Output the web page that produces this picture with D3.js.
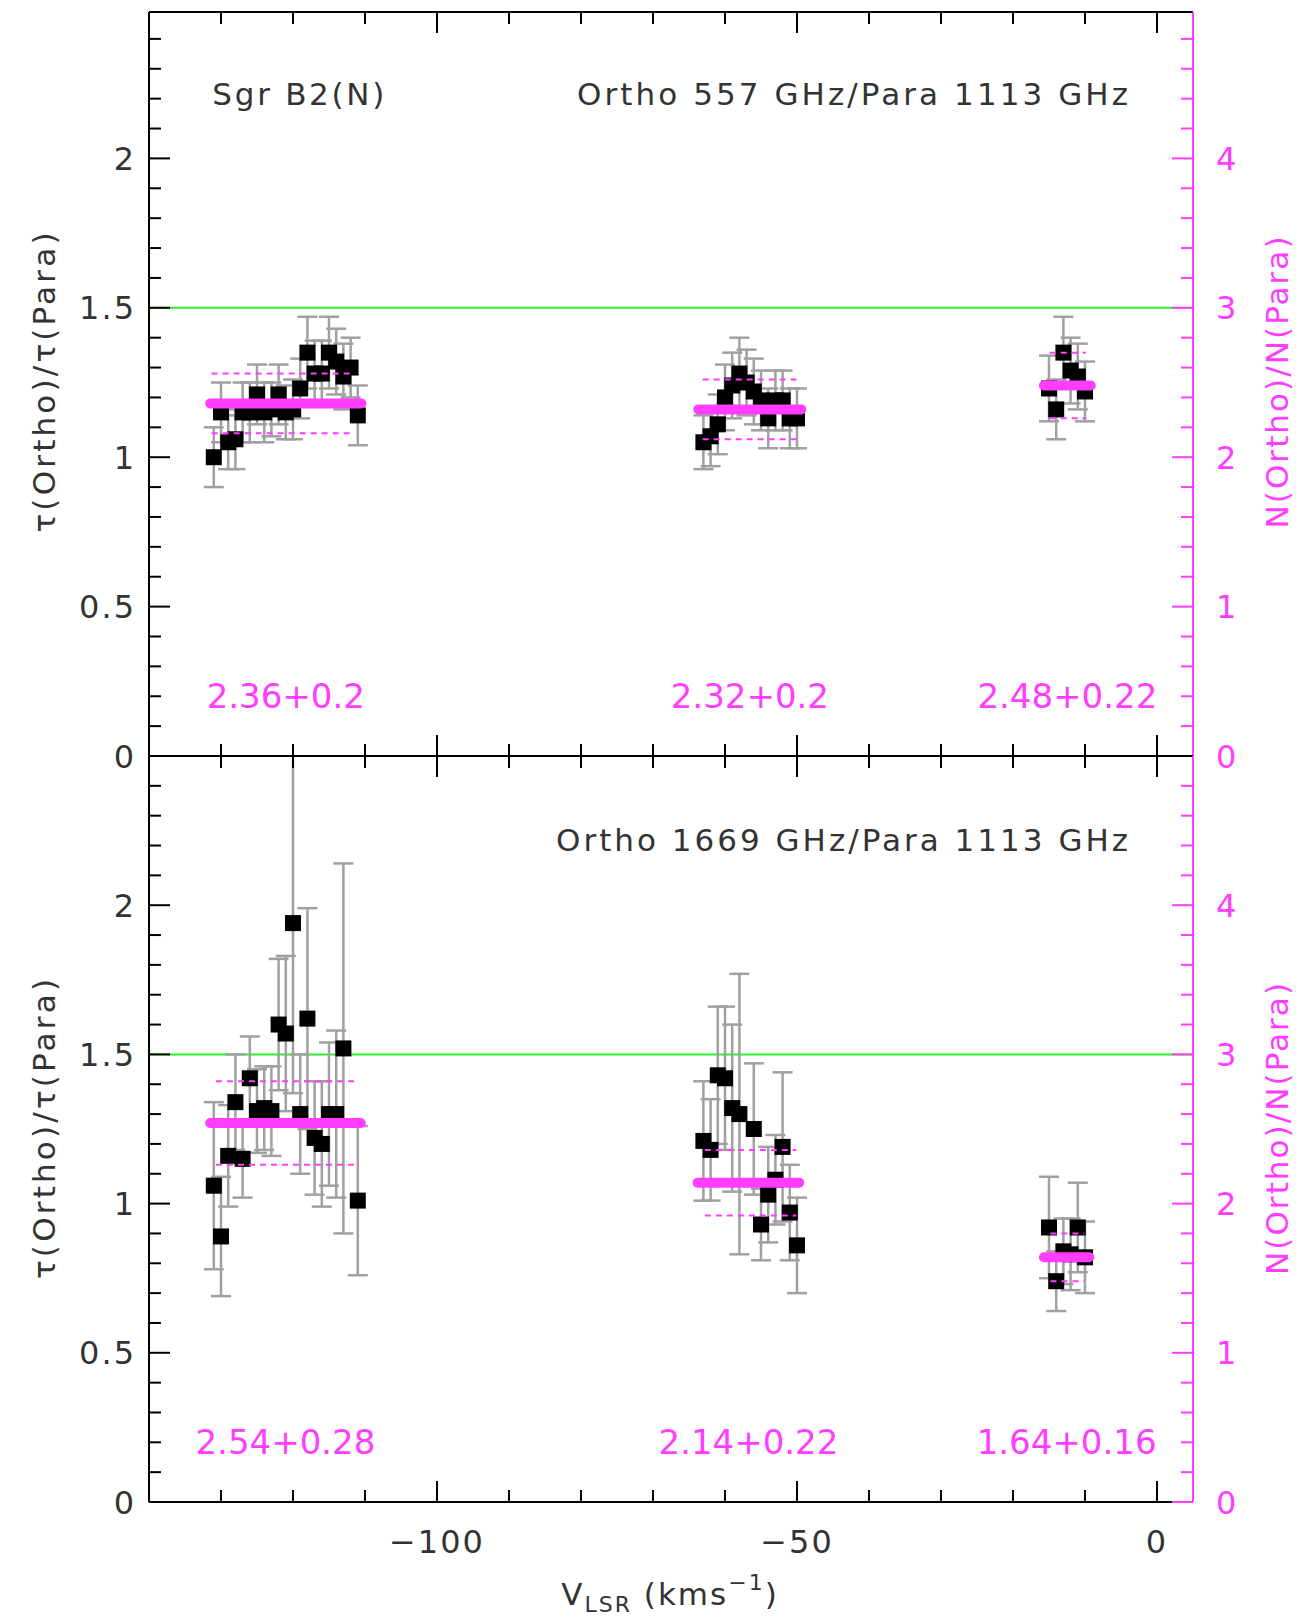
<!DOCTYPE html>
<html><head><meta charset="utf-8">
<script src="https://cdn.jsdelivr.net/npm/d3@7"></script>
<style>body{margin:0;background:#fff;} svg{display:block;}</style>
</head><body>
<script>
// ---------------- DATA ----------------
// Top panel: Ortho 557 GHz / Para 1113 GHz
const top1V = [-131,-130,-129,-128,-127,-126,-125,-124,-123,-122,-121,-120,-119,-118,-117,-116,-115,-114,-113,-112,-111];
const top1R = [1.00,1.15,1.05,1.06,1.15,1.15,1.21,1.15,1.16,1.21,1.15,1.16,1.23,1.35,1.28,1.28,1.35,1.32,1.27,1.30,1.14];
const top1E = [0.10,0.10,0.09,0.10,0.10,0.10,0.10,0.10,0.09,0.10,0.09,0.10,0.10,0.12,0.11,0.11,0.12,0.11,0.11,0.10,0.10];
const top2V = [-63,-62,-61,-60,-59,-58,-57,-56,-55,-54,-53,-52,-51,-50];
const top2R = [1.05,1.07,1.11,1.20,1.24,1.28,1.25,1.22,1.19,1.13,1.19,1.19,1.13,1.13];
const top2E = [0.09,0.10,0.10,0.11,0.11,0.12,0.11,0.11,0.10,0.10,0.10,0.10,0.10,0.10];
const top3V = [-15,-14,-13,-12,-11,-10];
const top3R = [1.23,1.16,1.35,1.29,1.27,1.22];
const top3E = [0.11,0.10,0.12,0.11,0.11,0.10];
// Bottom panel: Ortho 1669 GHz / Para 1113 GHz
const bot1V = [-131,-130,-129,-128,-127,-126,-125,-124,-123,-122,-121,-120,-119,-118,-117,-116,-115,-114,-113,-111];
const bot1R = [1.06,0.89,1.16,1.34,1.15,1.42,1.31,1.32,1.31,1.60,1.57,1.94,1.30,1.62,1.22,1.20,1.30,1.30,1.52,1.01];
const bot1E = [0.28,0.20,0.17,0.16,0.13,0.14,0.14,0.14,0.15,0.22,0.26,0.57,0.20,0.37,0.19,0.21,0.24,0.28,0.62,0.25];
const bot2V = [-63,-62,-61,-60,-59,-58,-56,-55,-54,-53,-52,-51,-50];
const bot2R = [1.21,1.18,1.43,1.42,1.32,1.30,1.25,0.93,1.03,1.08,1.19,0.97,0.86];
const bot2E = [0.20,0.17,0.23,0.24,0.28,0.47,0.22,0.12,0.16,0.15,0.25,0.16,0.16];
const bot3V = [-15,-14,-13,-12,-11,-10];
const bot3R = [0.92,0.74,0.84,0.83,0.92,0.82];
const bot3E = [0.17,0.10,0.11,0.12,0.15,0.12];
// N(Ortho)/N(Para) averages per velocity group
const topMeans = [2.36, 2.32, 2.48];
const topMeanErr = [0.2, 0.2, 0.22];
const botMeans = [2.54, 2.14, 1.64];
const botMeanErr = [0.28, 0.22, 0.16];
// velocity extent of the average lines
const topMeanFrom = [-131.5, -63.7, -15.7], topMeanTo = [-110.5, -49.4, -9.2];
const topDashFrom = [-131.3, -63.1, -14.9], topDashTo = [-111.6, -50.1, -9.9];
const botMeanFrom = [-131.5, -63.8, -15.7], botMeanTo = [-110.6, -49.7, -9.4];
const botDashFrom = [-130.7, -62.8, -14.8], botDashTo = [-111.1, -50.1, -10.1];
// titles / tick labels
const topTitle = "Ortho 557 GHz/Para 1113 GHz";
const botTitle = "Ortho 1669 GHz/Para 1113 GHz";
const sourceName = "Sgr B2(N)";
const xMajorTicks = [-100, -50, 0];
const xTickLabels = ["\u2212100", "\u221250", "0"];
const yMajorTicks = [0, 0.5, 1, 1.5, 2];
const yTickLabels = ["0", "0.5", "1", "1.5", "2"];
const nMajorTicks = [0, 1, 2, 3, 4];
const nTickLabels = ["0", "1", "2", "3", "4"];
const orthoParaLTE = 1.5; // tau ratio corresponding to N ratio 3

// ---------------- DRAW ----------------
const W = 1296, H = 1623;
const FONT = "'DejaVu Sans', 'Liberation Sans', sans-serif";
const MAG = "#ff3cff", GRN = "#2ef02e", GRY = "#a0a0a0", TXT = "#333";
const svg = d3.select("body").append("svg").attr("width", W).attr("height", H)
  .style("font-family", FONT);
const xL = 149, xR = 1193;
const x = d3.scaleLinear().domain([-140, 5]).range([xL, xR]);
const xMinor = d3.range(-130, 1, 10).filter(v => !xMajorTicks.includes(v));
const yMinor = d3.range(1, 25).map(i => i / 10).filter(v => !yMajorTicks.includes(v));

const panels = [
  {top: 12, bot: 756, ymax: 2.49, series: [[top1V, top1R, top1E], [top2V, top2R, top2E], [top3V, top3R, top3E]],
   means: topMeans, mErr: topMeanErr, mFrom: topMeanFrom, mTo: topMeanTo, dFrom: topDashFrom, dTo: topDashTo,
   title: topTitle, src: sourceName, xlabels: false},
  {top: 756, bot: 1502, ymax: 2.5, series: [[bot1V, bot1R, bot1E], [bot2V, bot2R, bot2E], [bot3V, bot3R, bot3E]],
   means: botMeans, mErr: botMeanErr, mFrom: botMeanFrom, mTo: botMeanTo, dFrom: botDashFrom, dTo: botDashTo,
   title: botTitle, src: null, xlabels: true}
];

panels.forEach((p, pi) => {
  const y = d3.scaleLinear().domain([0, p.ymax]).range([p.bot, p.top]);
  const yN = d3.scaleLinear().domain([0, 2 * p.ymax]).range([p.bot, p.top]);
  const g = svg.append("g");
  const cid = "clip" + pi;
  svg.append("clipPath").attr("id", cid).append("rect")
    .attr("x", xL).attr("y", p.top).attr("width", xR - xL).attr("height", p.bot - p.top);
  const pg = g.append("g").attr("clip-path", `url(#${cid})`);

  // LTE line
  pg.append("line").attr("x1", xL).attr("x2", xR).attr("y1", y(orthoParaLTE)).attr("y2", y(orthoParaLTE))
    .attr("stroke", GRN).attr("stroke-width", 2);

  // error bars
  p.series.forEach(([V, R, E]) => {
    const eb = pg.append("g").attr("stroke", GRY).attr("stroke-width", 2.5);
    V.forEach((v, i) => {
      const cx = x(v), yt = y(R[i] + E[i]), yb = y(R[i] - E[i]);
      eb.append("line").attr("x1", cx).attr("x2", cx).attr("y1", yt).attr("y2", yb);
      eb.append("line").attr("x1", cx - 10).attr("x2", cx + 10).attr("y1", yt).attr("y2", yt);
      eb.append("line").attr("x1", cx - 10).attr("x2", cx + 10).attr("y1", yb).attr("y2", yb);
    });
  });
  // squares
  p.series.forEach(([V, R]) => {
    pg.append("g").selectAll("rect").data(V).join("rect")
      .attr("x", v => x(v) - 8).attr("y", (v, i) => y(R[i]) - 8)
      .attr("width", 16).attr("height", 16).attr("fill", "#000");
  });
  // mean lines (right-axis scale)
  p.means.forEach((m, k) => {
    pg.append("line").attr("x1", x(p.mFrom[k])).attr("x2", x(p.mTo[k]))
      .attr("y1", yN(m)).attr("y2", yN(m)).attr("stroke", MAG).attr("stroke-width", 10)
      .attr("stroke-linecap", "round");
    [m + p.mErr[k], m - p.mErr[k]].forEach(val => {
      pg.append("line").attr("x1", x(p.dFrom[k])).attr("x2", x(p.dTo[k]))
        .attr("y1", yN(val)).attr("y2", yN(val)).attr("stroke", MAG).attr("stroke-width", 2)
        .attr("stroke-dasharray", "6,5");
    });
    g.append("text").attr("x", x((p.mFrom[k] + p.mTo[k]) / 2)).attr("y", y(0.16))
      .attr("text-anchor", "middle").attr("font-size", 34).attr("fill", MAG)
      .text(String(m) + "+" + String(p.mErr[k]));
  });

  // frame: left, top, bottom black; right magenta
  const ax = g.append("g").attr("stroke", "#000").attr("stroke-width", 2);
  ax.append("line").attr("x1", xL).attr("x2", xL).attr("y1", p.top).attr("y2", p.bot);
  ax.append("line").attr("x1", xL).attr("x2", xR).attr("y1", p.top).attr("y2", p.top);
  ax.append("line").attr("x1", xL).attr("x2", xR).attr("y1", p.bot).attr("y2", p.bot);
  // x ticks (bottom up, top down)
  const xt = (vals, len) => vals.forEach(v => {
    ax.append("line").attr("x1", x(v)).attr("x2", x(v)).attr("y1", p.bot).attr("y2", p.bot - len);
    ax.append("line").attr("x1", x(v)).attr("x2", x(v)).attr("y1", p.top).attr("y2", p.top + len);
  });
  xt(xMajorTicks, 21); xt(xMinor, 12);
  // left ticks
  const ytk = (vals, len) => vals.forEach(v => {
    ax.append("line").attr("x1", xL).attr("x2", xL + len).attr("y1", y(v)).attr("y2", y(v));
  });
  ytk(yMajorTicks, 21); ytk(yMinor, 12);
  // right magenta axis
  const rax = g.append("g").attr("stroke", MAG).attr("stroke-width", 2);
  rax.append("line").attr("x1", xR).attr("x2", xR).attr("y1", p.top).attr("y2", p.bot);
  nMajorTicks.forEach(v => rax.append("line").attr("x1", xR).attr("x2", xR - 21).attr("y1", yN(v)).attr("y2", yN(v)));
  yMinor.forEach(v => rax.append("line").attr("x1", xR).attr("x2", xR - 12).attr("y1", y(v)).attr("y2", y(v)));

  // tick labels
  yMajorTicks.forEach((v, i) => g.append("text").attr("x", 136).attr("y", y(v)).attr("dy", "0.36em")
    .attr("text-anchor", "end").attr("font-size", 32).attr("letter-spacing", 2).attr("fill", TXT).text(yTickLabels[i]));
  nMajorTicks.forEach((v, i) => g.append("text").attr("x", 1216).attr("y", yN(v)).attr("dy", "0.36em")
    .attr("font-size", 32).attr("fill", MAG).text(nTickLabels[i]));
  if (p.xlabels) {
    xMajorTicks.forEach((v, i) => g.append("text").attr("x", x(v)).attr("y", 1553)
      .attr("text-anchor", "middle").attr("font-size", 32).attr("letter-spacing", 2).attr("fill", TXT).text(xTickLabels[i]));
  }

  // titles
  const tLen = p.xlabels ? 572 : 551;
  g.append("text").attr("x", 1128 - tLen).attr("y", y(2.18)).attr("font-size", 31).attr("fill", TXT)
    .attr("textLength", tLen).attr("lengthAdjust", "spacing").text(p.title);
  if (p.src) {
    g.append("text").attr("x", x(-131.2)).attr("y", y(2.18)).attr("font-size", 31).attr("fill", TXT)
      .attr("textLength", 172).attr("lengthAdjust", "spacing").text(p.src);
  }
  // axis titles
  const yc = y(1.25);
  g.append("text").attr("transform", `translate(55,${yc}) rotate(-90)`).attr("text-anchor", "middle")
    .attr("font-size", 31).attr("fill", TXT).attr("textLength", 300).attr("lengthAdjust", "spacing")
    .text("\u03c4(Ortho)/\u03c4(Para)");
  g.append("text").attr("transform", `translate(1288,${yc}) rotate(-90)`).attr("text-anchor", "middle")
    .attr("font-size", 31).attr("fill", MAG).attr("textLength", 292).attr("lengthAdjust", "spacing")
    .text("N(Ortho)/N(Para)");
});

// x axis title
const xt = svg.append("text").attr("x", 670).attr("y", 1605).attr("text-anchor", "middle")
  .attr("font-size", 31).attr("fill", TXT).attr("letter-spacing", 2);
xt.append("tspan").text("V");
xt.append("tspan").attr("font-size", 22).attr("dy", 7).text("LSR");
xt.append("tspan").attr("dy", -7).text(" (kms");
xt.append("tspan").attr("font-size", 22).attr("dy", -15).text("\u22121");
xt.append("tspan").attr("dy", 15).text(")");
</script>
</body></html>
